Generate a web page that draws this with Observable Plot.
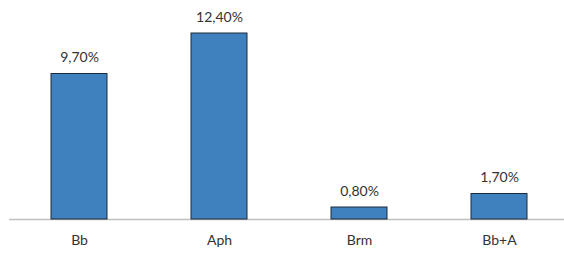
<!DOCTYPE html>
<html>
<head>
<meta charset="utf-8">
<script src="https://cdn.jsdelivr.net/npm/d3@7"></script>
<script src="https://cdn.jsdelivr.net/npm/@observablehq/plot@0.6"></script>
<style>
  html, body { margin: 0; padding: 0; background: #fff; }
  #chart svg { display: block; overflow: hidden; }
</style>
</head>
<body>
<div id="chart"></div>
<script>
const categories = ["Bb", "Aph", "Brm", "Bb+A"];
const values = [9.7, 12.4, 0.8, 1.7];

const data = categories.map((c, i) => ({ cat: c, value: values[i] }));
const fmt = v => v.toFixed(2).replace(".", ",") + "%";

const chart = Plot.plot({
  width: 564,
  height: 253,
  marginTop: 33,
  marginBottom: 34,
  marginLeft: 9,
  marginRight: -5,
  style: { fontFamily: "Lato, sans-serif", fontSize: "14px", color: "#333", background: "#fff" },
  x: { domain: categories, paddingInner: 0.6, paddingOuter: 0.3, align: 0.5, label: null },
  y: { domain: [0, 12.4], axis: null },
  marks: [
    Plot.ruleY([0], { stroke: "#bfbfbf", strokeWidth: 1.5 }),
    Plot.barY(data, { x: "cat", y: "value", fill: "#3f80bf", stroke: "#1f2a38", strokeWidth: 1 }),
    Plot.text(data, { x: "cat", y: "value", text: d => fmt(d.value), dy: -12, lineAnchor: "bottom", fill: "#333", fontSize: 14 }),
    Plot.axisX({ tickSize: 0, tickPadding: 16, fontSize: 14, fill: "#333", label: null })
  ]
});
document.getElementById("chart").appendChild(chart);
</script>
</body>
</html>
